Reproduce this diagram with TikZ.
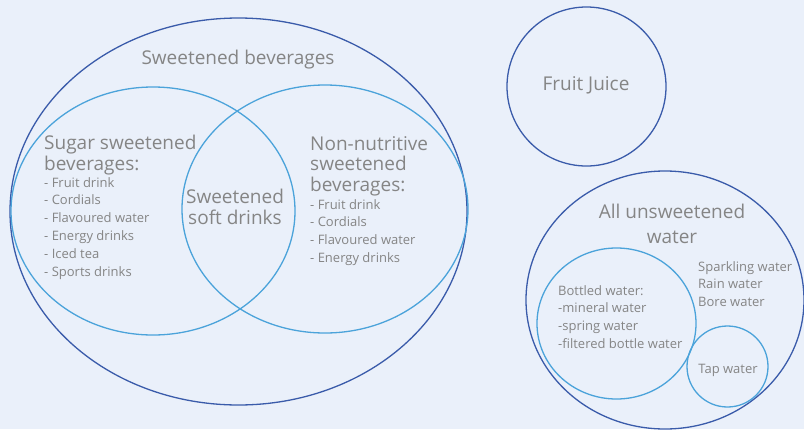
\documentclass[tikz,border=0pt]{standalone}
\usepackage{fontspec}
\setmainfont{Open Sans}
\definecolor{bgc}{HTML}{EAF0FA}
\definecolor{outerc}{HTML}{3A5BAA}
\definecolor{innerc}{HTML}{4BA3DA}
\definecolor{txtc}{HTML}{858585}
\begin{document}
\begin{tikzpicture}[x=1pt,y=-1pt,
  outerline/.style={draw=outerc,line width=1.3pt},
  innerline/.style={draw=innerc,line width=1.3pt},
  bigtext/.style={text=txtc,font=\fontsize{19}{20.5}\selectfont,inner sep=0pt},
  smalltext/.style={text=txtc,font=\fontsize{13}{17.9}\selectfont,inner sep=0pt,align=left,anchor=north west},
  midtext/.style={text=txtc,font=\fontsize{13}{17.7}\selectfont,inner sep=0pt,align=left,anchor=north west}]
\fill[bgc] (0,0) rectangle (804,429);
\useasboundingbox (0,0) rectangle (804,429);
% shapes
\draw[outerline] (238.5,211.5) ellipse [x radius=228.5, y radius=193.5];
\draw[innerline] (153,211) ellipse [x radius=142, y radius=124];
\draw[innerline] (325,209) ellipse [x radius=143, y radius=124];
\draw[outerline] (586.5,86.5) circle [radius=79.5];
\draw[outerline] (665,300) ellipse [x radius=139, y radius=129];
\draw[innerline] (616.5,323.5) ellipse [x radius=79.5, y radius=75.5];
\draw[innerline] (727.5,366.5) circle [radius=40.5];
% texts
\node[bigtext] (sb) at (238,60) {Sweetened beverages};
\node[bigtext,align=left,anchor=north west] (ssb) at (44,135) {Sugar sweetened\\beverages:};
\node[smalltext] (ssbl) at (44,177) {- Fruit drink\\- Cordials\\- Flavoured water\\- Energy drinks\\- Iced tea\\- Sports drinks};
\node[bigtext,align=center] (ssd) at (235,207) {Sweetened\\soft drinks};
\node[bigtext,align=left,anchor=north west] (nnsb) at (310,136) {Non-nutritive\\sweetened\\beverages:};
\node[smalltext] (nnsbl) at (310,199) {- Fruit drink\\- Cordials\\- Flavoured water\\- Energy drinks};
\node[bigtext] (fj) at (586,85) {Fruit Juice};
\node[bigtext,align=center,font=\fontsize{19}{25}\selectfont] (auw) at (672,224) {All unsweetened\\water};
\node[midtext] (oth) at (698,261) {Sparkling water\\Rain water\\Bore water};
\node[midtext] (bw) at (558,285) {Bottled water:\\-mineral water\\-spring water\\-filtered bottle water};
\node[text=txtc,font=\fontsize{13}{14}\selectfont,inner sep=0pt] (tw) at (728,370) {Tap water};
\end{tikzpicture}
\end{document}
